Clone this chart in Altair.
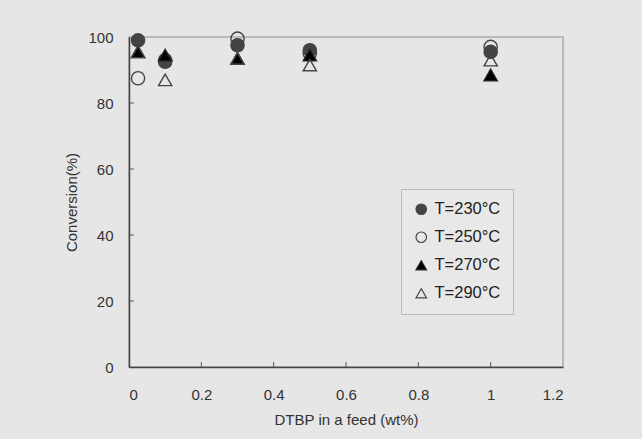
import altair as alt
import pandas as pd

x_vals = [0.025, 0.1, 0.3, 0.5, 1.0]
series = ["T=230°C", "T=250°C", "T=270°C", "T=290°C"]
t230 = [99.0, 92.5, 97.5, 96.0, 95.5]
t250 = [87.5, 93.0, 99.5, 95.0, 97.0]
t270 = [95.5, 94.5, 93.5, 94.5, 88.5]
t290 = [95.5, 87.0, 93.5, 91.5, 93.0]

x_ticks = [0, 0.2, 0.4, 0.6, 0.8, 1.0, 1.2]
y_ticks = [0, 20, 40, 60, 80, 100]
x_inner_ticks = [0.2, 0.4, 0.6, 0.8, 1.0]
y_inner_ticks = [20, 40, 60, 80]

shapes = ["circle", "circle", "triangle-up", "triangle-up"]
fills = ["#444444", "transparent", "#000000", "transparent"]
strokes = ["#444444", "#444444", "#222222", "#444444"]

rows = []
for name, vals in zip(series, [t230, t250, t270, t290]):
    for xv, yv in zip(x_vals, vals):
        rows.append({"dtbp": xv, "conv": yv, "series": name})
df = pd.DataFrame(rows)

xs = alt.Scale(domain=[0, 1.2], nice=False, zero=False)
ys = alt.Scale(domain=[0, 100], nice=False)

FONT = "Liberation Sans"

legend = alt.Legend(
    title=None, orient="none", legendX=272, legendY=152,
    padding=12, strokeColor="#bbbbbb", fillColor="#e8e8e8",
    labelFontSize=16.5, labelFont=FONT, labelColor="#222222",
    symbolSize=110, rowPadding=11, symbolStrokeWidth=1.2, labelOffset=5,
)

points = alt.Chart(df).mark_point(
    filled=True, size=175, strokeWidth=1.4, opacity=1
).encode(
    x=alt.X("dtbp:Q", scale=xs, title="DTBP in a feed (wt%)",
            axis=alt.Axis(values=x_ticks, format="~g", labelPadding=20,
                          titlePadding=10)),
    y=alt.Y("conv:Q", scale=ys, title="Conversion(%)",
            axis=alt.Axis(values=y_ticks, labelPadding=16, titlePadding=8)),
    shape=alt.Shape("series:N", scale=alt.Scale(domain=series, range=shapes), legend=legend),
    fill=alt.Fill("series:N", scale=alt.Scale(domain=series, range=fills), legend=legend),
    stroke=alt.Stroke("series:N", scale=alt.Scale(domain=series, range=strokes), legend=legend),
    order=alt.Order("series:N"),
)

yt = alt.Chart(pd.DataFrame({"v": y_inner_ticks})).mark_rule(color="#555555", strokeWidth=1).encode(
    y=alt.Y("v:Q", scale=ys), x=alt.value(0), x2=alt.value(5)
)
xt = alt.Chart(pd.DataFrame({"v": x_inner_ticks})).mark_rule(color="#555555", strokeWidth=1).encode(
    x=alt.X("v:Q", scale=xs), y=alt.value(330), y2=alt.value(325)
)

chart = alt.layer(yt, xt, points).properties(
    width=434, height=330,
    autosize=alt.AutoSizeParams(type="none"),
    padding={"left": 129, "top": 37, "right": 79, "bottom": 72},
    background="#e6e6e6",
).configure_view(
    stroke="#aaaaaa", strokeWidth=1.5, fill="#e6e6e6"
).configure_axis(
    grid=False, ticks=False, domainColor="#444444", domainWidth=1.5,
    labelFont=FONT, labelFontSize=15, labelColor="#333333",
    titleFont=FONT, titleFontSize=15, titleFontWeight="normal", titleColor="#333333",
)

chart.save("out.html", embed_options={"renderer": "svg", "actions": False})
